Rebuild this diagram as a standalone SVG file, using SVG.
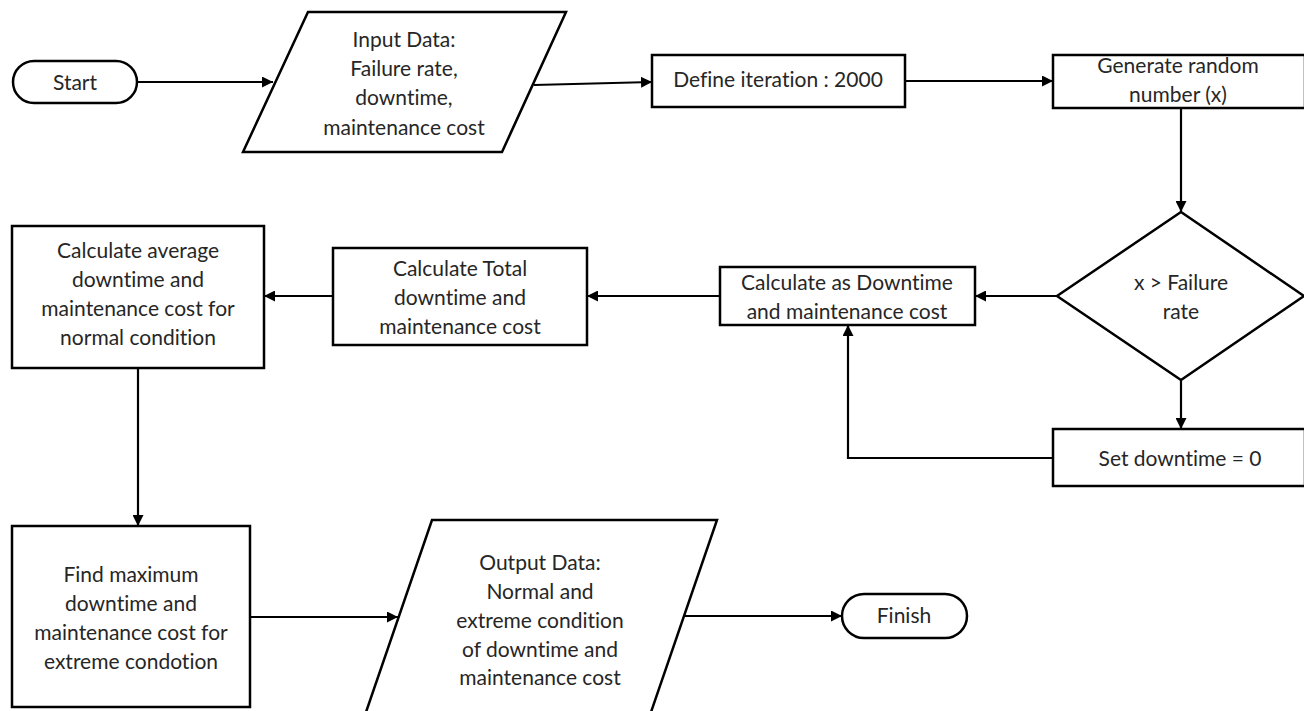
<svg xmlns="http://www.w3.org/2000/svg" width="1304" height="711" viewBox="0 0 1304 711">
  <defs>
    <marker id="arrow" viewBox="0 0 10 10" refX="10" refY="5" markerWidth="5" markerHeight="5" orient="auto" markerUnits="strokeWidth">
      <path d="M0,0 L10,5 L0,10 z" fill="#000"/>
    </marker>
  </defs>
  <style>
    .shape { fill: #fff; stroke: #000; stroke-width: 2.5; }
    .label { font-family: Lato, "Open Sans", sans-serif; font-size: 21px; fill: #262626; text-anchor: middle; font-variant-ligatures: none; font-feature-settings: "liga" 0, "clig" 0; }
    .edge { fill: none; stroke: #000; stroke-width: 2.2; marker-end: url(#arrow); }
  </style>
  <rect width="1304" height="711" fill="#fff"/>

  <!-- connectors -->
  <g id="connectors">
    <line class="edge" x1="137" y1="82" x2="273" y2="82"/>
    <line class="edge" x1="534" y1="85" x2="652" y2="82"/>
    <line class="edge" x1="905" y1="81" x2="1053" y2="81"/>
    <line class="edge" x1="1181" y1="108" x2="1181" y2="212"/>
    <line class="edge" x1="1057" y1="296" x2="975" y2="296"/>
    <line class="edge" x1="720" y1="296" x2="587" y2="296"/>
    <line class="edge" x1="333" y1="296" x2="264" y2="296"/>
    <line class="edge" x1="1181" y1="380" x2="1181" y2="429"/>
    <polyline class="edge" points="1053,458 848,458 848,325"/>
    <line class="edge" x1="138" y1="368" x2="138" y2="526"/>
    <line class="edge" x1="250" y1="617" x2="398" y2="617"/>
    <line class="edge" x1="683" y1="616" x2="842" y2="616"/>
  </g>

  <!-- Start terminator -->
  <g id="start">
    <rect class="shape" x="13" y="61" width="124" height="42" rx="21" ry="21"/>
    <text class="label" x="75" y="90">Start</text>
  </g>

  <!-- Input data -->
  <g id="input-data">
    <polygon class="shape" points="308,12 566,12 502,152 243,152"/>
    <text class="label" x="404" y="47">Input Data:</text>
    <text class="label" x="404" y="76">Failure rate,</text>
    <text class="label" x="404" y="105">downtime,</text>
    <text class="label" x="404" y="135">maintenance cost</text>
  </g>

  <!-- Define iteration -->
  <g id="define-iteration">
    <rect class="shape" x="652" y="55" width="253" height="52"/>
    <text class="label" x="778" y="87">Define iteration : 2000</text>
  </g>

  <!-- Generate random number -->
  <g id="generate-random">
    <rect class="shape" x="1053" y="55" width="252" height="53"/>
    <text class="label" x="1178" y="73">Generate random</text>
    <text class="label" x="1178" y="102">number  (x)</text>
  </g>

  <!-- Decision -->
  <g id="decision">
    <polygon class="shape" points="1181,212 1304,296 1181,380 1057,296"/>
    <text class="label" x="1181" y="290">x &gt; Failure</text>
    <text class="label" x="1181" y="319">rate</text>
  </g>

  <!-- Calculate as downtime -->
  <g id="calc-downtime">
    <rect class="shape" x="720" y="267" width="255" height="58"/>
    <text class="label" x="847" y="290">Calculate as Downtime</text>
    <text class="label" x="847" y="319">and maintenance cost</text>
  </g>

  <!-- Set downtime -->
  <g id="set-downtime">
    <rect class="shape" x="1053" y="429" width="252" height="57"/>
    <text class="label" x="1180" y="466">Set downtime  = 0</text>
  </g>

  <!-- Calculate total -->
  <g id="calc-total">
    <rect class="shape" x="333" y="248" width="254" height="97"/>
    <text class="label" x="460" y="276">Calculate Total</text>
    <text class="label" x="460" y="305">downtime  and</text>
    <text class="label" x="460" y="334">maintenance cost</text>
  </g>

  <!-- Calculate average -->
  <g id="calc-average">
    <rect class="shape" x="12" y="226" width="252" height="142"/>
    <text class="label" x="138" y="258">Calculate average</text>
    <text class="label" x="138" y="287">downtime  and</text>
    <text class="label" x="138" y="316">maintenance cost for</text>
    <text class="label" x="138" y="345">normal  condition</text>
  </g>

  <!-- Find maximum -->
  <g id="find-maximum">
    <rect class="shape" x="12" y="526" width="238" height="181"/>
    <text class="label" x="131" y="582">Find maximum</text>
    <text class="label" x="131" y="611">downtime  and</text>
    <text class="label" x="131" y="640">maintenance cost for</text>
    <text class="label" x="131" y="669">extreme  condotion</text>
  </g>

  <!-- Output data -->
  <g id="output-data">
    <polygon class="shape" points="432,520 717,520 650,715 365,715"/>
    <text class="label" x="540" y="570">Output Data:</text>
    <text class="label" x="540" y="599">Normal  and</text>
    <text class="label" x="540" y="628">extreme condition</text>
    <text class="label" x="540" y="657">of downtime  and</text>
    <text class="label" x="540" y="685">maintenance cost</text>
  </g>

  <!-- Finish terminator -->
  <g id="finish">
    <rect class="shape" x="842" y="594" width="125" height="44" rx="22" ry="22"/>
    <text class="label" x="904" y="623">Finish</text>
  </g>
</svg>
